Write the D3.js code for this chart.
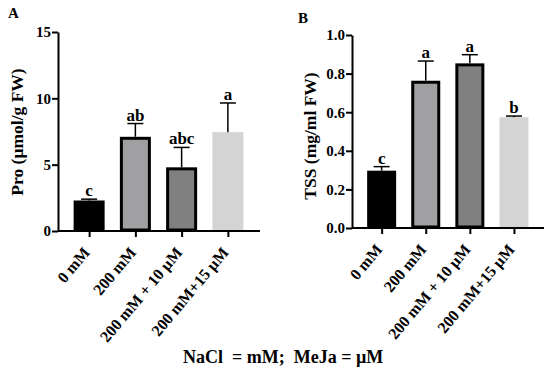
<!DOCTYPE html>
<html>
<head>
<meta charset="utf-8">
<script src="https://cdn.jsdelivr.net/npm/d3@7"></script>
<style>
  body { margin: 0; background: #fff; }
  svg text { font-family: "Liberation Serif", "Times New Roman", serif; font-weight: bold; fill: #000; }
</style>
</head>
<body>
<div id="chart"></div>
<script>
var categories = ["0 mM", "200 mM", "200 mM + 10 \u00b5M", "200 mM+15 \u00b5M"];
var bar_colors = ["#000000", "#a0a0a3", "#808080", "#d4d4d4"];
var bar_borders = [true, true, true, false];

var pro_mean   = [2.3, 7.1, 4.8, 7.45];
var pro_err    = [0.1, 1.0, 1.5, 2.2];
var pro_letter = ["c", "ab", "abc", "a"];
var pro_ticks  = [0, 5, 10, 15];

var tss_mean   = [0.297, 0.763, 0.853, 0.574];
var tss_err    = [0.021, 0.102, 0.045, 0.006];
var tss_letter = ["c", "a", "a", "b"];
var tss_ticks  = [0, 0.2, 0.4, 0.6, 0.8, 1.0];

var svg = d3.select("#chart").append("svg")
  .attr("width", 550)
  .attr("height", 373);

// one panel of the figure
function draw_panel (opt) {
  var g = svg.append("g");

  var x = d3.scalePoint()
    .domain(categories)
    .range(opt.x_range)
    .padding(0.5);
  var y = d3.scaleLinear()
    .domain(opt.y_domain)
    .range(opt.y_range);

  var y_axis = g.append("g")
    .attr("transform", "translate(" + opt.axis_x + ",0)")
    .call(d3.axisLeft(y).tickValues(opt.ticks).tickFormat(opt.fmt).tickSize(6).tickSizeOuter(0));
  y_axis.select(".domain").attr("stroke-width", 2);
  y_axis.selectAll(".tick line").attr("stroke-width", 2);
  y_axis.selectAll(".tick text").style("font-size", "15px").attr("x", -7);

  var x_axis = g.append("g")
    .attr("transform", "translate(0," + opt.y_range[0] + ")")
    .call(d3.axisBottom(x).tickSize(6).tickSizeOuter(0));
  x_axis.select(".domain")
    .attr("d", "M" + opt.axis_x + ",0H" + opt.x_end)
    .attr("stroke-width", 2);
  x_axis.selectAll(".tick line").attr("stroke-width", 2);
  x_axis.selectAll(".tick text")
    .style("font-size", "16px")
    .attr("text-anchor", "end")
    .attr("dy", null)
    .attr("transform", "translate(1,22) rotate(-50)")
    .attr("x", 0)
    .attr("y", 0);

  var bw = opt.bar_w;
  var bars = g.selectAll(".bar").data(opt.mean).enter();

  bars.append("rect")
    .attr("x", function (d, i) { return x(categories[i]) - bw/2 + (bar_borders[i] ? 1.5 : 0); })
    .attr("y", function (d, i) { return y(d) + (bar_borders[i] ? 1.5 : 0); })
    .attr("width", function (d, i) { return bw - (bar_borders[i] ? 3 : 0); })
    .attr("height", function (d, i) { return y(0) - y(d) - (bar_borders[i] ? 2.5 : 1); })
    .attr("fill", function (d, i) { return bar_colors[i]; })
    .attr("stroke", function (d, i) { return bar_borders[i] ? "#000" : "none"; })
    .attr("stroke-width", 3);

  // error bars
  bars.append("line")
    .attr("x1", function (d, i) { return x(categories[i]); })
    .attr("x2", function (d, i) { return x(categories[i]); })
    .attr("y1", function (d) { return y(d); })
    .attr("y2", function (d, i) { return y(d + opt.err[i]); })
    .attr("stroke", "#000")
    .attr("stroke-width", 1.5);
  bars.append("line")
    .attr("x1", function (d, i) { return x(categories[i]) - 8; })
    .attr("x2", function (d, i) { return x(categories[i]) + 8; })
    .attr("y1", function (d, i) { return y(d + opt.err[i]); })
    .attr("y2", function (d, i) { return y(d + opt.err[i]); })
    .attr("stroke", "#000")
    .attr("stroke-width", 1.5);

  bars.append("text")
    .attr("x", function (d, i) { return x(categories[i]); })
    .attr("y", function (d, i) { return y(d + opt.err[i]) - 3; })
    .attr("text-anchor", "middle")
    .style("font-size", "17px")
    .text(function (d, i) { return opt.letters[i]; });

  g.append("text")
    .attr("transform", "translate(" + opt.title_x + "," + opt.title_y + ") rotate(-90)")
    .attr("text-anchor", "middle")
    .style("font-size", "17.5px")
    .text(opt.title);

  g.append("text")
    .attr("x", opt.label_x)
    .attr("y", opt.label_y)
    .style("font-size", "15px")
    .text(opt.label);
}

draw_panel({
  x_range: [66, 251], x_end: 260, axis_x: 58,
  y_domain: [0, 15], y_range: [231, 32],
  ticks: pro_ticks, fmt: d3.format("d"),
  mean: pro_mean, err: pro_err, letters: pro_letter,
  bar_w: 31, title: "Pro (\u00b5mol/g FW)", title_x: 23, title_y: 132,
  label: "A", label_x: 8, label_y: 18
});

draw_panel({
  x_range: [359.6, 536], x_end: 544, axis_x: 352,
  y_domain: [0, 1], y_range: [228, 35],
  ticks: tss_ticks, fmt: d3.format(".1f"),
  mean: tss_mean, err: tss_err, letters: tss_letter,
  bar_w: 29, title: "TSS (mg/ml FW)", title_x: 316, title_y: 136,
  label: "B", label_x: 298, label_y: 23
});

svg.append("text")
  .attr("x", 183)
  .attr("y", 363)
  .style("font-size", "18px")
  .attr("xml:space", "preserve")
  .text("NaCl  = mM;  MeJa = \u00b5M");
</script>
</body>
</html>
